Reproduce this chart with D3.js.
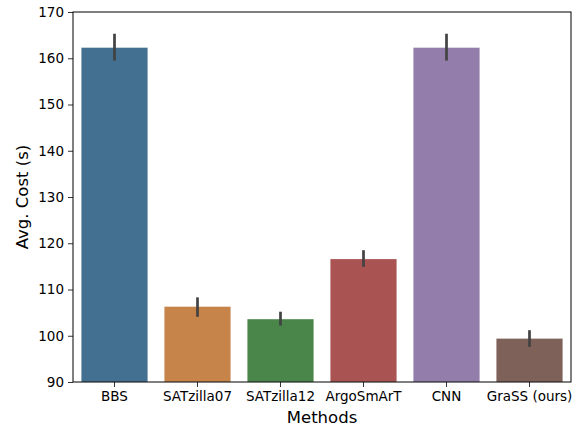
<!DOCTYPE html>
<html><head><meta charset="utf-8">
<script src="https://cdn.jsdelivr.net/npm/d3@7"></script>
<style>body{margin:0;background:#fff}svg{display:block;font-family:"DejaVu Sans",sans-serif}</style>
</head><body><svg id="c" width="579" height="428"></svg>
<script>
const categories = ["BBS","SATzilla07","SATzilla12","ArgoSmArT","CNN","GraSS (ours)"];
const means = [162.3,106.3,103.6,116.6,162.3,99.4];
const errLow = [159.5,104.1,102.2,114.9,159.5,97.6];
const errHigh = [165.3,108.3,105.2,118.5,165.3,101.2];
const colors = ["#436f90","#c6834a","#4a8549","#a95453","#937dab","#7e625a"];
const yTicks = [90,100,110,120,130,140,150,160,170];

const svg = d3.select("#c");
const m = {l:73, r:571, t:12, b:382};
const x = d3.scaleBand().domain(categories).range([m.l,m.r]).paddingInner(0.2).paddingOuter(0.1);
const y = d3.scaleLinear().domain([90,170]).range([m.b,m.t]);

svg.selectAll("rect.bar").data(categories).join("rect")
  .attr("class","bar")
  .attr("x",d=>x(d)).attr("width",x.bandwidth())
  .attr("y",(d,i)=>y(means[i])).attr("height",(d,i)=>y(90)-y(means[i]))
  .attr("fill",(d,i)=>colors[i]).attr("stroke","#ffffff").attr("stroke-opacity",0.25).attr("stroke-width",0.8);

svg.selectAll("line.err").data(categories).join("line")
  .attr("x1",d=>x(d)+x.bandwidth()/2).attr("x2",d=>x(d)+x.bandwidth()/2)
  .attr("y1",(d,i)=>y(errLow[i])).attr("y2",(d,i)=>y(errHigh[i]))
  .attr("stroke","#424242").attr("stroke-width",2.7);

const yAxis = d3.axisLeft(y).tickValues(yTicks).tickSize(5).tickPadding(4);
const gy = svg.append("g").attr("transform",`translate(${m.l},0)`).call(yAxis);
gy.select(".domain").remove();
gy.selectAll("text").attr("font-size",13.5).attr("fill","#000").attr("font-family","DejaVu Sans");
gy.selectAll("line").attr("stroke","#000").attr("stroke-width",0.8);

const xAxis = d3.axisBottom(x).tickSize(5).tickPadding(4);
const gx = svg.append("g").attr("transform",`translate(0,${m.b})`).call(xAxis);
gx.select(".domain").remove();
gx.selectAll("text").attr("font-size",13.5).attr("fill","#000").attr("font-family","DejaVu Sans").attr("dy","0.75em");
gx.selectAll("line").attr("stroke","#000").attr("stroke-width",0.8);

// spines
svg.append("rect").attr("x",m.l).attr("y",m.t).attr("width",m.r-m.l).attr("height",m.b-m.t)
  .attr("fill","none").attr("stroke","#000").attr("stroke-width",1);

svg.append("text").attr("x",(m.l+m.r)/2).attr("y",423).attr("text-anchor","middle")
  .attr("font-size",16.5).text("Methods");
svg.append("text").attr("transform",`translate(28,${(m.t+m.b)/2}) rotate(-90)`).attr("text-anchor","middle")
  .attr("font-size",16.5).text("Avg. Cost (s)");
</script></body></html>
